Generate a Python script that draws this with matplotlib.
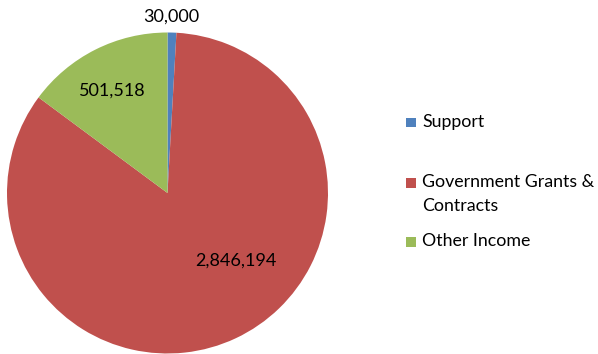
import numpy as np
import matplotlib.pyplot as plt
from matplotlib.patches import Rectangle

plt.rcParams['font.family'] = ['Lato', 'DejaVu Sans']

# income sources
categories = ['Support', 'Government Grants &\nContracts', 'Other Income']
values = [30000, 2846194, 501518]
colors = ['#4F81BD', '#C0504D', '#9BBB59']

# label placement in pie units: (angle in degrees, distance from centre)
label_pos = [(88.8, 1.10), (-44.7, 0.60), (118.5, 0.725)]

W, H = 598, 354
fig = plt.figure(figsize=(W / 100, H / 100), dpi=100)
cx, cy, r = 167.5, 193, 160.5
ax = fig.add_axes([(cx - r) / W, (H - cy - r) / H, 2 * r / W, 2 * r / H])

wedges, _ = ax.pie(values, colors=colors, startangle=90, counterclock=False,
                   radius=1, wedgeprops=dict(linewidth=0))
ax.set_xlim(-1, 1)
ax.set_ylim(-1, 1)
ax.set_aspect('equal')

for v, (a, d) in zip(values, label_pos):
    t = np.deg2rad(a)
    ax.text(d * np.cos(t), d * np.sin(t), f'{v:,}', ha='center', va='center',
            fontsize=13, color='black', clip_on=False)

# legend drawn by hand to keep Excel-style spacing (baseline of first line, px)
leg_base = [127, 187, 246]
line_gap = 24
for w, lab, yb in zip(wedges, categories, leg_base):
    fig.patches.append(Rectangle((406 / W, 1 - (yb + 0.5) / H), 10 / W, 9.5 / H,
                                 transform=fig.transFigure,
                                 facecolor=w.get_facecolor(), edgecolor='none'))
    for i, line in enumerate(lab.split('\n')):
        fig.text(422 / W, 1 - (yb + i * line_gap) / H, line, ha='left',
                 va='baseline', fontsize=12.8)

fig.savefig('out.png', dpi=100)
